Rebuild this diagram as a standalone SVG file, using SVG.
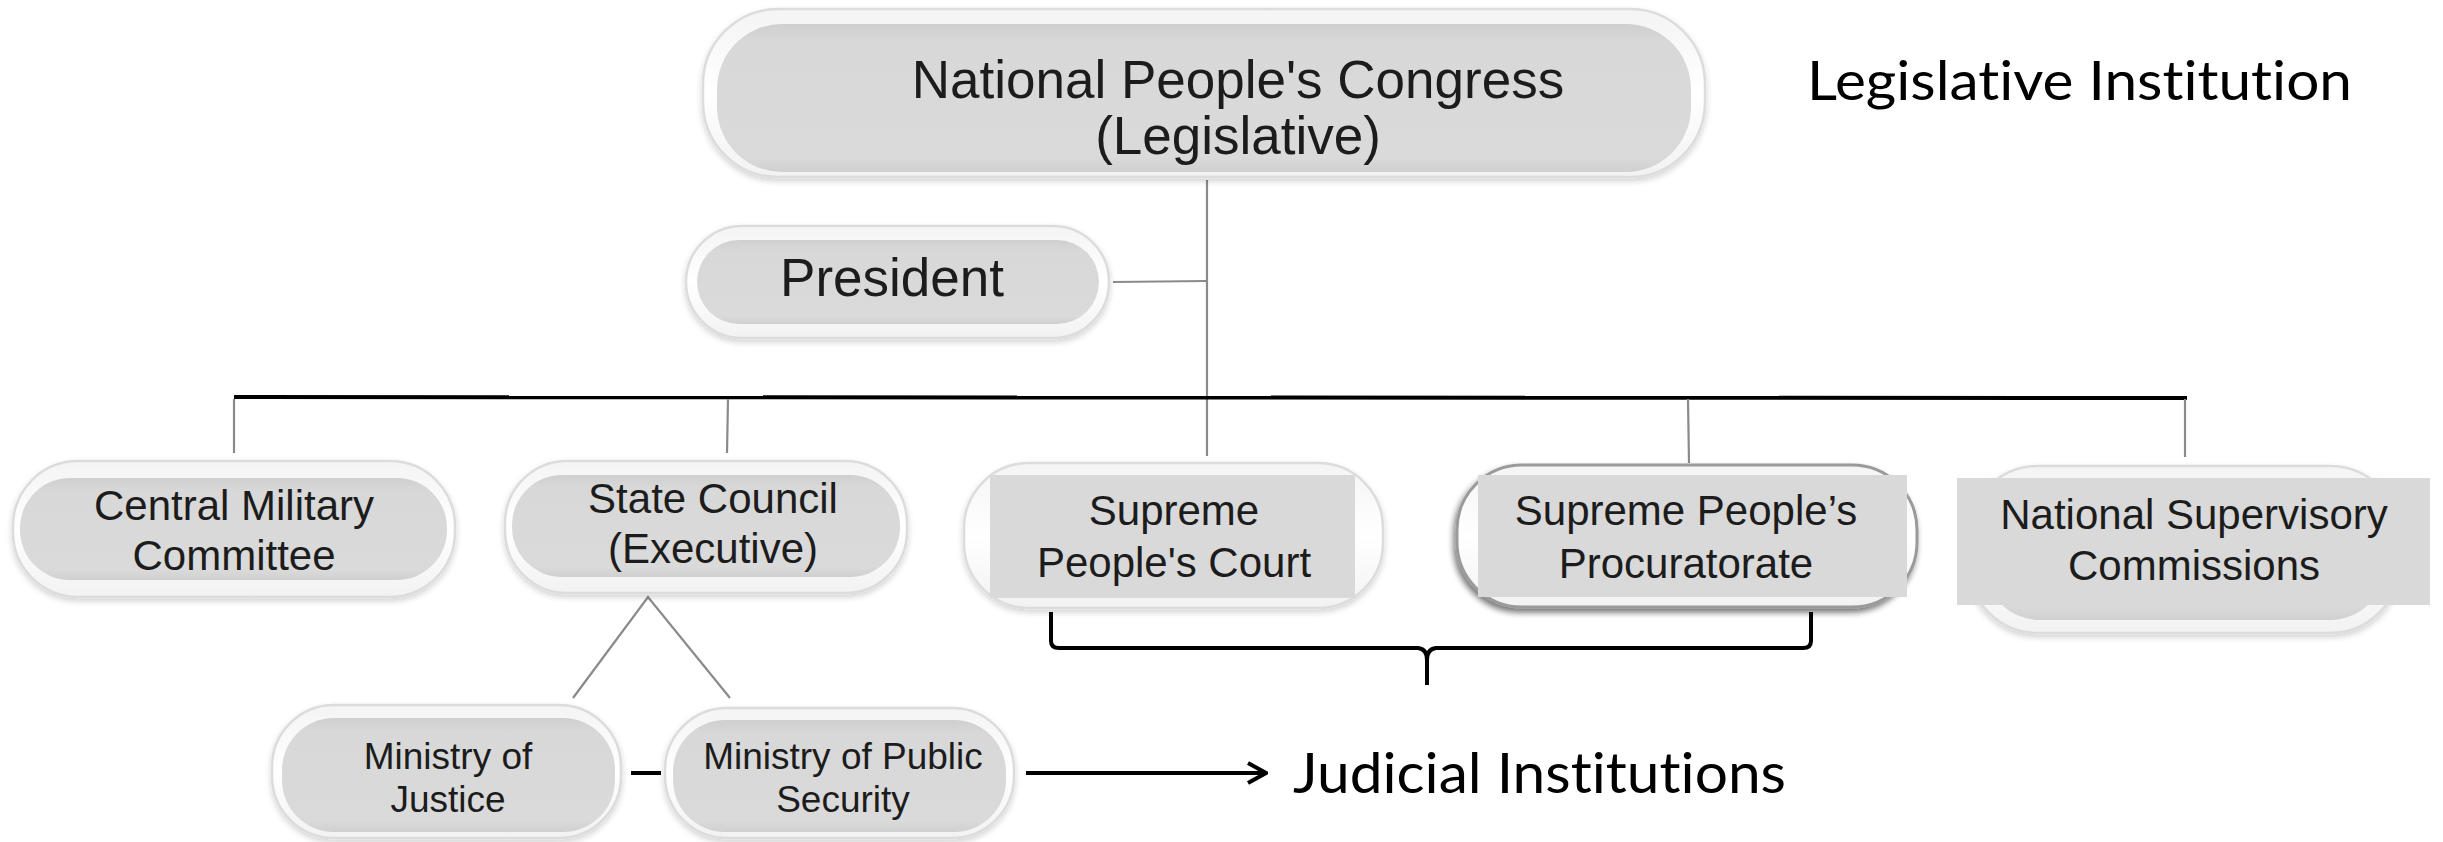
<svg xmlns="http://www.w3.org/2000/svg" width="2443" height="842" viewBox="0 0 2443 842">
  <defs>
    <linearGradient id="outerGrad" x1="0" y1="0" x2="0" y2="1">
      <stop offset="0" stop-color="#f4f4f4"/>
      <stop offset="0.5" stop-color="#ffffff"/>
      <stop offset="1" stop-color="#f2f2f2"/>
    </linearGradient>
    <linearGradient id="innerGrad" x1="0" y1="0" x2="0" y2="1">
      <stop offset="0" stop-color="#cfcfcf"/>
      <stop offset="0.12" stop-color="#d8d8d8"/>
      <stop offset="0.9" stop-color="#dadada"/>
      <stop offset="1" stop-color="#d0d0d0"/>
    </linearGradient>
    <filter id="soft" x="-5%" y="-10%" width="110%" height="125%">
      <feGaussianBlur in="SourceAlpha" stdDeviation="3"/>
      <feOffset dx="0" dy="3" result="b"/>
      <feComponentTransfer><feFuncA type="linear" slope="0.18"/></feComponentTransfer>
      <feMerge><feMergeNode/><feMergeNode in="SourceGraphic"/></feMerge>
    </filter>
    <filter id="dark" x="-5%" y="-10%" width="110%" height="125%">
      <feGaussianBlur in="SourceAlpha" stdDeviation="3"/>
      <feOffset dx="-2" dy="4" result="b"/>
      <feComponentTransfer><feFuncA type="linear" slope="0.55"/></feComponentTransfer>
      <feMerge><feMergeNode/><feMergeNode in="SourceGraphic"/></feMerge>
    </filter>
    <marker id="chev" viewBox="0 0 24 24" markerWidth="24" markerHeight="24" refX="22" refY="12" orient="auto" markerUnits="userSpaceOnUse">
      <polyline points="4,2 22,12 4,22" fill="none" stroke="#000" stroke-width="4"/>
    </marker>
  </defs>
  <style>
    .outer { fill: url(#outerGrad); stroke: #dcdcdc; stroke-width: 2.5; filter: url(#soft); }
    .outerDark { fill: url(#outerGrad); stroke: #9a9a9a; stroke-width: 3; filter: url(#dark); }
    .inner { fill: url(#innerGrad); }
    .rect { fill: #d9d9d9; }
    .t { font-family: "Liberation Sans", Arial, sans-serif; fill: #1c1c1c; text-anchor: middle; }
    .big { font-size: 53px; }
    .mid { font-size: 42px; }
    .sm { font-size: 37px; }
    .cal { font-family: Lato, "Open Sans", sans-serif; fill: #000; font-variant-ligatures: none; font-feature-settings: "liga" 0, "clig" 0; }
    .conn { stroke: #8a8a8a; stroke-width: 2.2; fill: none; }
    .heavy { stroke: #000; stroke-width: 4; fill: none; }
  </style>
  <rect width="2443" height="842" fill="#ffffff"/>

  <g id="connectors">
    <line class="conn" x1="1207" y1="180" x2="1207" y2="456"/>
    <line class="conn" x1="1113" y1="282" x2="1207" y2="281"/>
    <line class="heavy" x1="234" y1="397" x2="2187" y2="398"/>
    <line class="conn" x1="234" y1="399" x2="234" y2="453"/>
    <line class="conn" x1="728" y1="399" x2="727" y2="453"/>
    <line class="conn" x1="1688" y1="399" x2="1689" y2="463"/>
    <line class="conn" x1="2185" y1="399" x2="2185" y2="457"/>
    <polyline class="conn" points="573,698 648,597 730,698"/>
    <line class="heavy" x1="631" y1="773" x2="661" y2="773"/>
    <path class="heavy" d="M1051,612 L1051,641 Q1051,648 1059,648 L1418,648 Q1427,649 1427,660 L1427,685 M1427,660 Q1427,649 1436,648 L1803,648 Q1811,648 1811,641 L1811,612"/>
    <line class="heavy" x1="1026" y1="773" x2="1266" y2="773" marker-end="url(#chev)"/>
  </g>

  <g id="npc">
    <rect class="outer" x="703" y="9" width="1002" height="168" rx="75"/>
    <rect class="inner" x="717" y="24" width="974" height="148" rx="65"/>
    <text class="t big" x="1238" y="98">National People's Congress</text>
    <text class="t big" x="1238" y="154">(Legislative)</text>
  </g>

  <g id="president">
    <rect class="outer" x="686" y="226" width="423" height="112" rx="56"/>
    <rect class="inner" x="697" y="240" width="402" height="84" rx="42"/>
    <text class="t big" x="892" y="296">President</text>
  </g>

  <g id="cmc">
    <rect class="outer" x="13" y="461" width="442" height="136" rx="65"/>
    <rect class="inner" x="20" y="478" width="427" height="102" rx="50"/>
    <text class="t mid" x="234" y="520">Central Military</text>
    <text class="t mid" x="234" y="570">Committee</text>
  </g>

  <g id="state-council">
    <rect class="outer" x="505" y="461" width="402" height="132" rx="62"/>
    <rect class="inner" x="512" y="475" width="388" height="102" rx="50"/>
    <text class="t mid" x="713" y="513">State Council</text>
    <text class="t mid" x="713" y="563">(Executive)</text>
  </g>

  <g id="court">
    <rect class="outer" x="964" y="463" width="419" height="145" rx="65"/>
    <rect class="rect" x="990" y="475" width="365" height="123"/>
    <text class="t mid" x="1174" y="525">Supreme</text>
    <text class="t mid" x="1174" y="577">People's Court</text>
  </g>

  <g id="procuratorate">
    <rect class="outerDark" x="1457" y="465" width="460" height="142" rx="65"/>
    <rect class="rect" x="1478" y="475" width="429" height="122"/>
    <text class="t mid" x="1686" y="525">Supreme People’s</text>
    <text class="t mid" x="1686" y="578">Procuratorate</text>
  </g>

  <g id="supervisory">
    <rect class="outer" x="1968" y="466" width="432" height="167" rx="70"/>
    <rect class="inner" x="1985" y="478" width="400" height="142" rx="55"/>
    <rect class="rect" x="1957" y="478" width="473" height="127"/>
    <text class="t mid" x="2194" y="529">National Supervisory</text>
    <text class="t mid" x="2194" y="580">Commissions</text>
  </g>

  <g id="justice">
    <rect class="outer" x="272" y="705" width="349" height="133" rx="62"/>
    <rect class="inner" x="282" y="718" width="333" height="114" rx="52"/>
    <text class="t sm" x="448" y="769">Ministry of</text>
    <text class="t sm" x="448" y="812">Justice</text>
  </g>

  <g id="public-security">
    <rect class="outer" x="665" y="708" width="349" height="130" rx="62"/>
    <rect class="inner" x="673" y="720" width="333" height="112" rx="52"/>
    <text class="t sm" x="843" y="769">Ministry of Public</text>
    <text class="t sm" x="843" y="812">Security</text>
  </g>

  <g id="labels">
    <text class="cal" x="1807" y="100" font-size="55" textLength="545" lengthAdjust="spacingAndGlyphs">Legislative Institution</text>
    <text class="cal" x="1293" y="793" font-size="56" textLength="493" lengthAdjust="spacingAndGlyphs">Judicial Institutions</text>
  </g>
</svg>
